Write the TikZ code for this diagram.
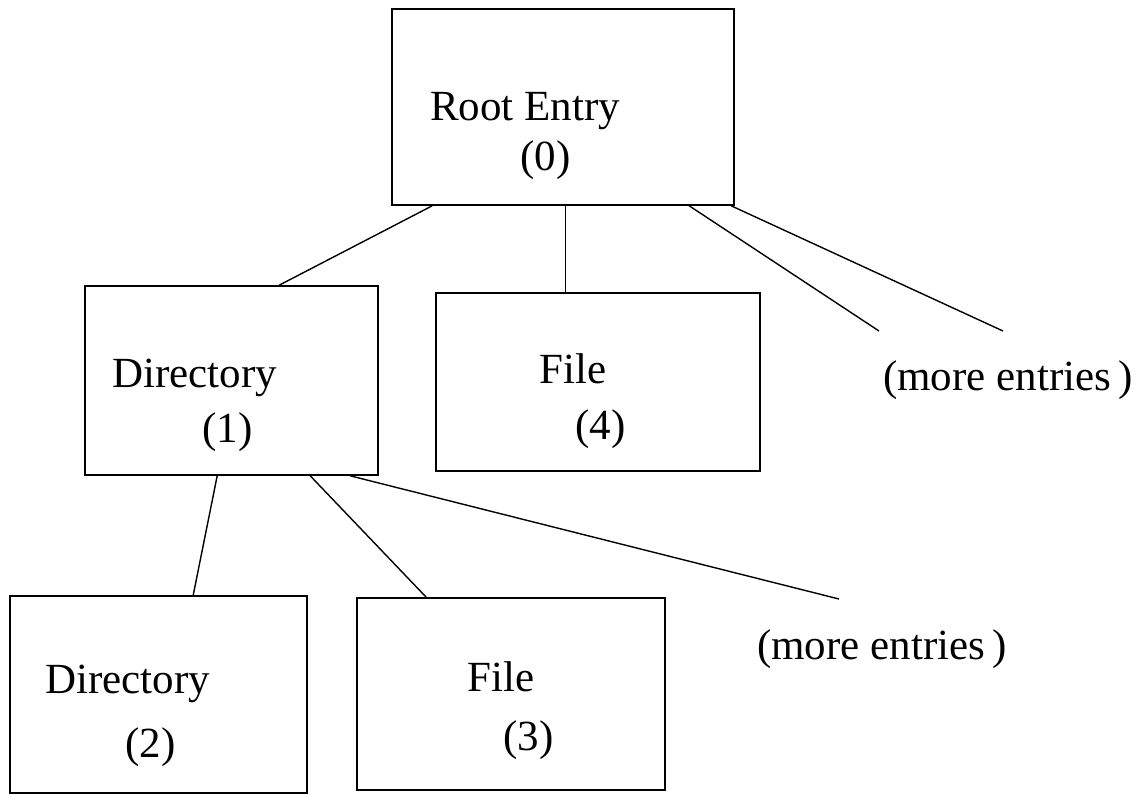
\documentclass[tikz,border=0pt]{standalone}
\usepackage{fontspec}
\setmainfont{Liberation Serif}
\begin{document}
\begin{tikzpicture}[x=1pt,y=-1pt,
  box/.style={draw=black,line width=1.6pt,rectangle,inner sep=0pt},
  lbl/.style={inner sep=0pt,anchor=base west,font=\fontsize{43}{50}\selectfont},
  conn/.style={draw=black,line width=1.4pt}]
\useasboundingbox[fill=white] (0,0) rectangle (1138,795);
% boxes
\node[box,minimum width=342pt,minimum height=196pt] (root) at (563,107) {};
\node[box,minimum width=293pt,minimum height=189pt] (dir1) at (231.5,380.5) {};
\node[box,minimum width=324pt,minimum height=178pt] (file4) at (598,382) {};
\node[box,minimum width=297pt,minimum height=197pt] (dir2) at (158.5,694.5) {};
\node[box,minimum width=308pt,minimum height=192pt] (file3) at (511,694) {};
% texts
\node[lbl] (rootA) at (430,120) {Root Entry};
\node[lbl] (rootB) at (520,170) {(0)};
\node[lbl] (dir1A) at (112,387) {Directory};
\node[lbl] (dir1B) at (202,442) {(1)};
\node[lbl] (file4A) at (539,383) {File};
\node[lbl] (file4B) at (575,439) {(4)};
\node[lbl] (dir2A) at (45,693) {Directory};
\node[lbl] (dir2B) at (125,757) {(2)};
\node[lbl] (file3A) at (467,691) {File};
\node[lbl] (file3B) at (503,750) {(3)};
\node[lbl] (more1) at (883,390) {(more entries\,)};
\node[lbl] (more2) at (757,659) {(more entries\,)};
% free ends
\coordinate (m1) at (879,331);
\coordinate (m2) at (1003,331);
\coordinate (m3) at (839,599);
% connectors
\draw[conn] ([xshift=41pt]root.south west) -- ([xshift=195pt]dir1.north west);
\draw[conn] ([xshift=174pt]root.south west) -- ([xshift=130pt]file4.north west);
\draw[conn] ([xshift=298pt]root.south west) -- (m1);
\draw[conn] ([xshift=340pt]root.south west) -- (m2);
\draw[conn] ([xshift=133pt]dir1.south west) -- ([xshift=184pt]dir2.north west);
\draw[conn] ([xshift=226pt]dir1.south west) -- ([xshift=70pt]file3.north west);
\draw[conn] ([xshift=266pt]dir1.south west) -- (m3);
\end{tikzpicture}
\end{document}
